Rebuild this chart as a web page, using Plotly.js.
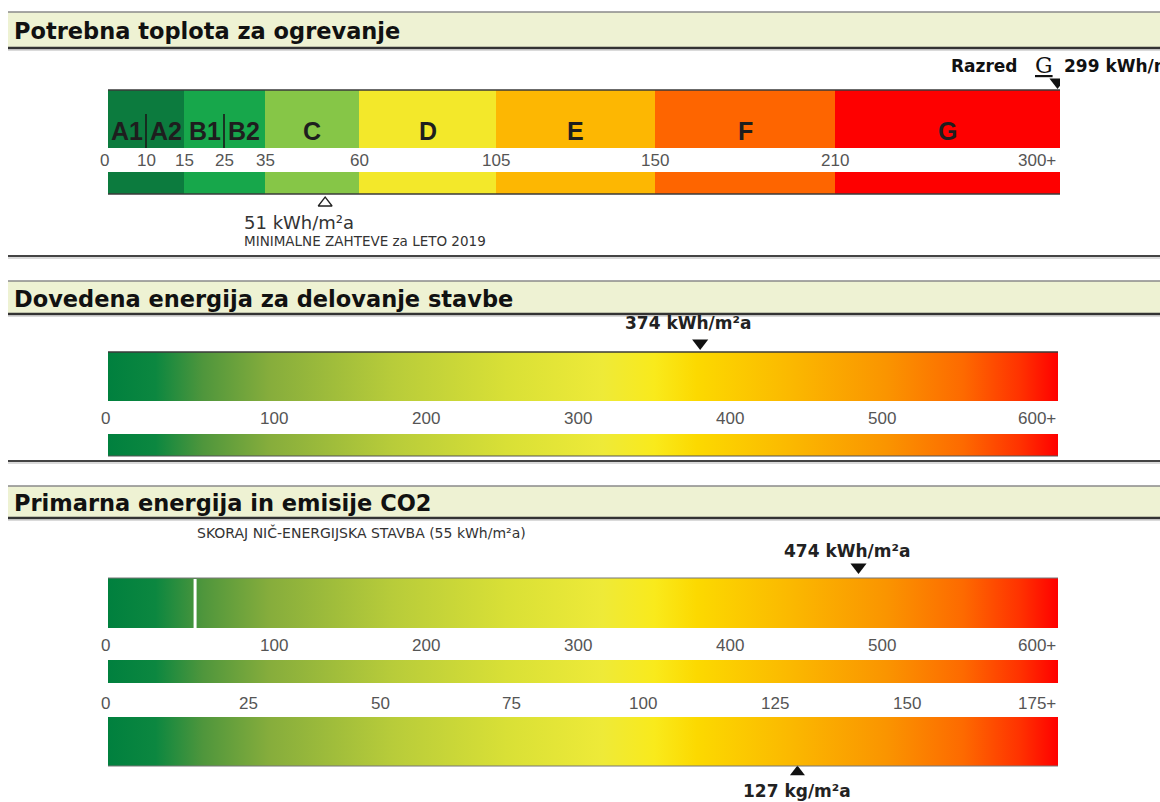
<!DOCTYPE html>
<html>
<head>
<meta charset="utf-8">
<script src="https://cdn.plot.ly/plotly-3.0.1.min.js"></script>
<style>
html,body{margin:0;padding:0;background:#fff;overflow:hidden}
#chart{width:1160px;height:802px}
</style>
</head>
<body>
<div id="chart"></div>
<script>
// ================= DATA =================
// Section 1: heating demand classes (kWh/m2a)
const heatClassNames  = ['A1|A2', 'B1|B2', 'C', 'D', 'E', 'F', 'G'];
const heatClassBounds = [0, 15, 35, 60, 105, 150, 210, 300];
const heatSubBounds   = [0, 10, 15, 25, 35, 60, 105, 150, 210, 300];
const heatSubDividers = [10, 25];
const heatTickVals    = [0, 10, 15, 25, 35, 60, 105, 150, 210, 300];
const heatTickText    = ['0', '10', '15', '25', '35', '60', '105', '150', '210', '300+'];
const heatValue       = 299;
const heatClass       = 'G';
const heatMin2019     = 51;

// Section 2 & 3: energy scales (kWh/m2a)
const energyTickVals  = [0, 100, 200, 300, 400, 500, 600];
const energyTickText  = ['0', '100', '200', '300', '400', '500', '600+'];
const deliveredValue  = 374;
const primaryValue    = 474;
const nzebValue       = 55;

// CO2 scale (kg/m2a)
const co2TickVals     = [0, 25, 50, 75, 100, 125, 150, 175];
const co2TickText     = ['0', '25', '50', '75', '100', '125', '150', '175+'];
const co2Value        = 127;

// ================= STYLE / LAYOUT =================
const W = 1160, H = 802;
const heatSubWidths   = [38, 38, 40, 41, 94, 137, 159, 180, 225]; // display width of each sub-class
const heatClassColors = ['#0c7b3e', '#17a74b', '#86c647', '#f3e82a', '#fdb702', '#fe6500', '#fe0000'];
const GRAD = [
  [0.00, '#00803e'], [0.05, '#0c8740'], [0.10, '#4f963c'], [0.17, '#86ad3c'],
  [0.30, '#b8cc3a'], [0.42, '#d9e036'], [0.52, '#eeea38'], [0.575, '#f9ea1c'],
  [0.62, '#fcd900'], [0.72, '#fbb800'], [0.82, '#fa9400'], [0.90, '#fd6a00'],
  [0.96, '#ff3200'], [1.00, '#ff0000']
];
const energyLabelRange = [-9.2, 615.8];
const co2LabelRange    = [-1.8, 178.8];
const BAR_L = 108, HEAT_R = 1060, E_R = 1058;
const classFont = {family: 'Liberation Sans, Arial, sans-serif', size: 25, color: '#1e1e1e', weight: 700};

function heatPos(v) {
  let acc = 0;
  for (let i = 0; i < heatSubBounds.length - 1; i++) {
    const a = heatSubBounds[i], b = heatSubBounds[i + 1], w = heatSubWidths[i];
    if (v <= b || i === heatSubBounds.length - 2) return acc + (v - a) / (b - a) * w;
    acc += w;
  }
}

const traces = [];
const shapes = [];
const ann = [];
const last = a => a[a.length - 1];

// ---------- Section 1 bars ----------
const cx = [], cw = [];
for (let i = 0; i < heatClassNames.length; i++) {
  const a = heatPos(heatClassBounds[i]), b = heatPos(heatClassBounds[i + 1]);
  cx.push((a + b) / 2); cw.push(b - a);
}
traces.push({type: 'bar', x: cx, width: cw, base: 90, y: cx.map(() => 58),
  marker: {color: heatClassColors, line: {width: 0}}, xaxis: 'x', yaxis: 'y', hoverinfo: 'skip'});
traces.push({type: 'bar', x: cx, width: cw, base: 172, y: cx.map(() => 22),
  marker: {color: heatClassColors, line: {width: 0}}, xaxis: 'x', yaxis: 'y', hoverinfo: 'skip'});
// sub-class dividers
heatSubDividers.forEach(v => {
  traces.push({type: 'scatter', mode: 'lines', x: [heatPos(v), heatPos(v)], y: [114, 148],
    line: {color: '#1a1a1a', width: 1.6}, xaxis: 'x', yaxis: 'y', hoverinfo: 'skip'});
});
// class labels
let subIdx = 0;
heatClassNames.forEach((n, i) => {
  const parts = n.split('|');
  if (parts.length === 2) {
    const d = heatPos(heatSubDividers[subIdx++]);
    ann.push({xref: 'x', yref: 'y', x: d, y: 131, xanchor: 'right', xshift: -1.5,
      text: parts[0], showarrow: false, font: classFont});
    ann.push({xref: 'x', yref: 'y', x: d, y: 131, xanchor: 'left', xshift: 1.5,
      text: parts[1], showarrow: false, font: classFont});
  } else {
    ann.push({xref: 'x', yref: 'y', x: cx[i], y: 131, text: n, showarrow: false, font: classFont});
  }
});
// tick labels
const tickFont = {family: 'Liberation Sans, Arial, sans-serif', size: 17, color: '#555'};
heatTickVals.forEach((v, i) => {
  const isLast = i === heatTickVals.length - 1;
  ann.push({xref: 'x', yref: 'y', x: heatPos(v), y: 160, text: heatTickText[i], showarrow: false,
    xanchor: isLast ? 'right' : 'center', xshift: i === 0 ? -4 : (isLast ? -2 : 0), font: tickFont});
});
// border lines
shapes.push({type: 'line', xref: 'x', yref: 'y', x0: 0, x1: heatPos(last(heatClassBounds)), y0: 90, y1: 90, line: {color: '#3a3a3a', width: 1.5}});
shapes.push({type: 'line', xref: 'x', yref: 'y', x0: 0, x1: heatPos(last(heatClassBounds)), y0: 194, y1: 194, line: {color: '#3a3a3a', width: 1.5}});
// markers
traces.push({type: 'scatter', mode: 'markers', x: [heatPos(heatValue)], y: [82], xaxis: 'x', yaxis: 'y',
  marker: {symbol: 'triangle-down', size: 14, color: '#111'}, hoverinfo: 'skip'});
traces.push({type: 'scatter', mode: 'markers', x: [heatPos(heatMin2019)], y: [203], xaxis: 'x', yaxis: 'y',
  marker: {symbol: 'triangle-up-open', size: 12, color: '#222', line: {width: 1.3}}, hoverinfo: 'skip'});
ann.push({xref: 'x', yref: 'y', x: heatPos(heatValue), y: 66, xanchor: 'right', xshift: -38, text: 'Razred', showarrow: false,
  font: {family: 'DejaVu Sans', size: 17, color: '#111', weight: 700}});
ann.push({xref: 'x', yref: 'y', x: heatPos(heatValue), y: 65, xanchor: 'center', xshift: -14, text: '<u>' + heatClass + '</u>', showarrow: false,
  font: {family: 'DejaVu Serif, Liberation Serif', size: 22, color: '#111'}});
ann.push({xref: 'x', yref: 'y', x: heatPos(heatValue), y: 66, xanchor: 'left', xshift: 4, text: heatValue + ' kWh/m²a', showarrow: false,
  font: {family: 'DejaVu Sans', size: 17, color: '#111', weight: 700}});
ann.push({xref: 'paper', yref: 'y', x: 242 / W, y: 222, xanchor: 'left', text: heatMin2019 + ' kWh/m²a', showarrow: false,
  font: {family: 'DejaVu Sans', size: 18, color: '#333'}});
ann.push({xref: 'paper', yref: 'y', x: 242 / W, y: 241, xanchor: 'left', text: 'MINIMALNE ZAHTEVE za LETO 2019', showarrow: false,
  font: {family: 'DejaVu Sans', size: 13.5, color: '#333'}});

// ---------- gradient bar helper ----------
function gradRect(xa, x0, x1, y0, y1) {
  traces.push({type: 'scatter', mode: 'lines', xaxis: xa, yaxis: 'y',
    x: [x0, x1, x1, x0, x0], y: [y0, y0, y1, y1, y0], fill: 'toself',
    fillgradient: {type: 'horizontal', colorscale: GRAD}, line: {width: 0, color: 'rgba(0,0,0,0)'}, hoverinfo: 'skip'});
}
function energyLabels(y) {
  energyTickVals.forEach((v, i) => {
    const isFirst = i === 0, isLast = i === energyTickVals.length - 1;
    ann.push({xref: (isFirst || isLast) ? 'x2' : 'x3', yref: 'y', x: v, y: y, text: energyTickText[i], showarrow: false,
      xanchor: isLast ? 'right' : 'center', xshift: isFirst ? -3 : 0, font: tickFont});
  });
}
const eMin = energyTickVals[0], eMax = last(energyTickVals);
const cMin = co2TickVals[0], cMax = last(co2TickVals);

// ---------- Section 2 ----------
gradRect('x2', eMin, eMax, 352, 401);
gradRect('x2', eMin, eMax, 434, 456);
energyLabels(418);
shapes.push({type: 'line', xref: 'x2', yref: 'y', x0: eMin, x1: eMax, y0: 352, y1: 352, line: {color: '#3a3a3a', width: 1.5}});
shapes.push({type: 'line', xref: 'x2', yref: 'y', x0: eMin, x1: eMax, y0: 456, y1: 456, line: {color: '#555', width: 1.2}});
traces.push({type: 'scatter', mode: 'markers', x: [deliveredValue], y: [343], xaxis: 'x2', yaxis: 'y',
  marker: {symbol: 'triangle-down', size: 14, color: '#111'}, hoverinfo: 'skip'});
ann.push({xref: 'x2', yref: 'y', x: deliveredValue, y: 323, text: deliveredValue + ' kWh/m²a', showarrow: false,
  xshift: -12, font: {family: 'DejaVu Sans', size: 17, color: '#222', weight: 700}});

// ---------- Section 3 ----------
gradRect('x2', eMin, eMax, 578, 628);
traces.push({type: 'scatter', mode: 'lines', x: [nzebValue, nzebValue], y: [579, 628], xaxis: 'x2', yaxis: 'y',
  line: {color: '#ffffff', width: 3}, hoverinfo: 'skip'});
energyLabels(645);
gradRect('x4', cMin, cMax, 660, 683);
co2TickVals.forEach((v, i) => {
  const isFirst = i === 0, isLast = i === co2TickVals.length - 1;
  ann.push({xref: (isFirst || isLast) ? 'x4' : 'x5', yref: 'y', x: v, y: 703, text: co2TickText[i], showarrow: false,
    xanchor: isLast ? 'right' : 'center', xshift: isFirst ? -3 : 0, font: tickFont});
});
gradRect('x4', cMin, cMax, 717, 766);
shapes.push({type: 'line', xref: 'x2', yref: 'y', x0: eMin, x1: eMax, y0: 578, y1: 578, line: {color: '#777', width: 1}});
shapes.push({type: 'line', xref: 'x4', yref: 'y', x0: cMin, x1: cMax, y0: 766, y1: 766, line: {color: '#777', width: 1}});
traces.push({type: 'scatter', mode: 'markers', x: [primaryValue], y: [567], xaxis: 'x2', yaxis: 'y',
  marker: {symbol: 'triangle-down', size: 14, color: '#111'}, hoverinfo: 'skip'});
ann.push({xref: 'x2', yref: 'y', x: primaryValue, y: 551, text: primaryValue + ' kWh/m²a', showarrow: false,
  xshift: -12, font: {family: 'DejaVu Sans', size: 17, color: '#222', weight: 700}});
traces.push({type: 'scatter', mode: 'markers', x: [co2Value], y: [772], xaxis: 'x4', yaxis: 'y',
  marker: {symbol: 'triangle-up', size: 13, color: '#111'}, hoverinfo: 'skip'});
ann.push({xref: 'x4', yref: 'y', x: co2Value, y: 791, text: co2Value + ' kg/m²a', showarrow: false,
  font: {family: 'DejaVu Sans', size: 17, color: '#222', weight: 700}});
ann.push({xref: 'x2', yref: 'y', x: nzebValue, y: 532, xanchor: 'left', text: 'SKORAJ NIČ-ENERGIJSKA STAVBA (' + nzebValue + ' kWh/m²a)', showarrow: false,
  font: {family: 'DejaVu Sans', size: 14, color: '#333'}});

// invisible helpers so label axes exist
traces.push({type: 'scatter', x: [], y: [], xaxis: 'x3', yaxis: 'y', hoverinfo: 'skip'});
traces.push({type: 'scatter', x: [], y: [], xaxis: 'x5', yaxis: 'y', hoverinfo: 'skip'});

// ---------- Headers ----------
function header(y0, y1, title) {
  shapes.push({type: 'rect', xref: 'paper', yref: 'y', x0: 8 / W, x1: 1, y0: y0, y1: y1, fillcolor: '#eef2d3', line: {width: 0}, layer: 'below'});
  shapes.push({type: 'line', xref: 'paper', yref: 'y', x0: 8 / W, x1: 1, y0: y0, y1: y0, line: {color: '#8a8a8a', width: 1.5}});
  shapes.push({type: 'line', xref: 'paper', yref: 'y', x0: 8 / W, x1: 1, y0: y1, y1: y1, line: {color: '#333', width: 2.5}});
  shapes.push({type: 'line', xref: 'paper', yref: 'y', x0: 8 / W, x1: 1, y0: y1 + 2, y1: y1 + 2, line: {color: '#b5b5b5', width: 1}});
  ann.push({xref: 'paper', yref: 'y', x: 12 / W, y: (y0 + y1) / 2 + 1, xanchor: 'left', text: title, showarrow: false,
    font: {family: 'DejaVu Sans', size: 22.5, color: '#111', weight: 700}});
}
function separator(y) {
  shapes.push({type: 'line', xref: 'paper', yref: 'y', x0: 8 / W, x1: 1, y0: y, y1: y, line: {color: '#444', width: 2}});
  shapes.push({type: 'line', xref: 'paper', yref: 'y', x0: 8 / W, x1: 1, y0: y + 2, y1: y + 2, line: {color: '#b5b5b5', width: 1}});
}
header(12, 48, 'Potrebna toplota za ogrevanje');
separator(256);
header(281, 314, 'Dovedena energija za delovanje stavbe');
separator(461);
header(486, 518, 'Primarna energija in emisije CO2');

const hid = {visible: false, fixedrange: true, showgrid: false, zeroline: false};
const layout = {
  width: W, height: H, margin: {l: 0, r: 0, t: 0, b: 0},
  paper_bgcolor: '#ffffff', plot_bgcolor: 'rgba(0,0,0,0)',
  showlegend: false, barmode: 'overlay', hovermode: false,
  xaxis:  Object.assign({}, hid, {domain: [BAR_L / W, HEAT_R / W], range: [0, heatPos(last(heatClassBounds))], anchor: 'y'}),
  xaxis2: Object.assign({}, hid, {domain: [BAR_L / W, E_R / W], range: [eMin, eMax], anchor: 'y'}),
  xaxis3: Object.assign({}, hid, {domain: [BAR_L / W, E_R / W], range: energyLabelRange, anchor: 'y'}),
  xaxis4: Object.assign({}, hid, {domain: [BAR_L / W, E_R / W], range: [cMin, cMax], anchor: 'y'}),
  xaxis5: Object.assign({}, hid, {domain: [BAR_L / W, E_R / W], range: co2LabelRange, anchor: 'y'}),
  yaxis:  Object.assign({}, hid, {domain: [0, 1], range: [H, 0], anchor: 'x'}),
  shapes: shapes, annotations: ann
};
Plotly.newPlot('chart', traces, layout, {staticPlot: true, displayModeBar: false});
</script>
</body>
</html>
